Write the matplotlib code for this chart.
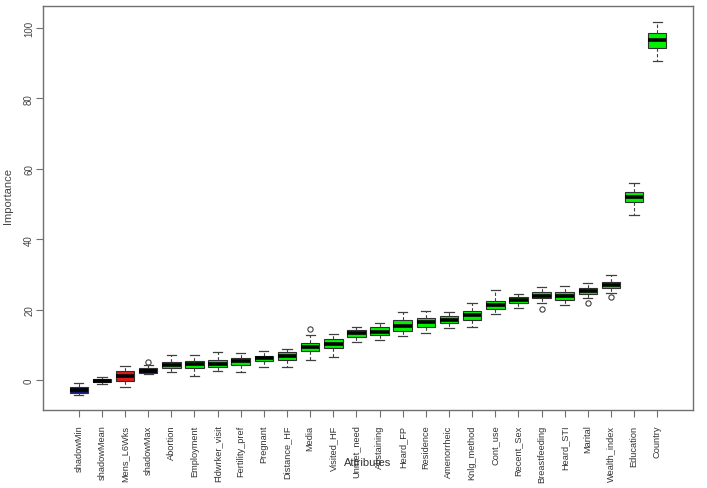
import matplotlib
matplotlib.use("Agg")
import matplotlib.pyplot as plt

# Boruta importance per attribute
attributes = ['shadowMin', 'shadowMean', 'Mens_L6Wks', 'shadowMax', 'Abortion',
              'Employment', 'Fldwrker_visit', 'Fertility_pref', 'Pregnant',
              'Distance_HF', 'Media', 'Visited_HF', 'Unmet_need', 'Abstaining',
              'Heard_FP', 'Residence', 'Amenorrheic', 'Knlg_method', 'Cont_use',
              'Recent_Sex', 'Breastfeeding', 'Heard_STI', 'Marital',
              'Wealth_index', 'Education', 'Country']
medians = [-2.9, -0.2, 1.2, 2.65, 4.35, 4.45, 4.7, 5.3, 6.15, 6.9, 9.3, 10.2,
           13.3, 13.7, 15.25, 16.4, 17.1, 18.5, 21.3, 22.7, 23.95, 23.9, 25.2,
           27.0, 52.0, 96.7]
q1 = [-3.7, -0.65, -0.2, 2.0, 3.4, 3.3, 3.7, 4.35, 5.4, 5.8, 8.3, 9.0, 12.3,
      12.8, 14.0, 15.0, 16.1, 17.0, 20.2, 21.9, 23.2, 22.7, 24.3, 26.1, 50.5, 94.4]
q3 = [-2.1, 0.3, 2.5, 3.3, 5.2, 5.3, 5.8, 6.25, 6.9, 7.9, 10.4, 11.6, 14.2,
      15.0, 17.0, 17.6, 18.1, 19.5, 22.5, 23.5, 24.9, 24.9, 26.05, 27.9, 53.5, 98.6]
whisker_lo = [-4.3, -1.2, -2.1, 1.7, 2.4, 1.2, 2.6, 2.3, 3.6, 3.6, 5.7, 6.6,
              10.7, 11.4, 12.4, 13.5, 14.7, 15.0, 18.75, 20.5, 21.9, 21.3, 23.2,
              24.6, 47.0, 90.7]
whisker_hi = [-0.85, 0.95, 4.1, 4.3, 7.1, 7.1, 7.9, 7.6, 8.15, 8.8, 12.9, 13.1,
              15.1, 16.2, 19.4, 19.7, 19.4, 21.8, 25.6, 24.3, 26.3, 26.6, 27.6,
              29.75, 56.05, 101.8]
outliers = {'shadowMax': [5.0], 'Media': [14.5], 'Breastfeeding': [20.2],
            'Marital': [21.8], 'Wealth_index': [23.5]}
decisions = ['shadow', 'shadow', 'rejected', 'shadow'] + ['confirmed'] * 22

colors = {'shadow': '#15157a', 'rejected': '#e01818', 'confirmed': '#00f000'}
fonts = ['Liberation Sans', 'DejaVu Sans']

stats = []
for i, name in enumerate(attributes):
    stats.append({'label': name, 'med': medians[i], 'q1': q1[i], 'q3': q3[i],
                  'whislo': whisker_lo[i], 'whishi': whisker_hi[i],
                  'fliers': outliers.get(name, [])})

fig = plt.figure(figsize=(7.07, 4.89), dpi=100)
ax = fig.add_axes([0.061, 0.1595, 0.919, 0.826])

bp = ax.bxp(stats, positions=range(1, len(stats) + 1), widths=0.8,
            patch_artist=True, capwidths=0.4,
            boxprops=dict(edgecolor='#303030', linewidth=0.8),
            medianprops=dict(color='black', linewidth=2.6),
            whiskerprops=dict(color='#404040', linestyle=(0, (3, 2)), linewidth=0.8),
            capprops=dict(color='#404040', linewidth=0.9),
            flierprops=dict(marker='o', markerfacecolor='none',
                            markeredgecolor='#404040', markersize=3.8,
                            markeredgewidth=0.8))
for patch, d in zip(bp['boxes'], decisions):
    patch.set_facecolor(colors[d])

ax.set_xlim(-0.54, 27.54)
ax.set_ylim(-8.5, 106.2)
ax.set_yticks([0, 20, 40, 60, 80, 100])
ax.set_yticklabels(['0', '20', '40', '60', '80', '100'], rotation=90,
                   va='center', fontsize=7, color='#444444', family=fonts)
ax.set_xticks(range(1, len(attributes) + 1))
ax.set_xticklabels(attributes, rotation=90, fontsize=6.7, color='#333333',
                   family=fonts)
ax.tick_params(axis='both', length=5, width=0.8, color='#707070')
ax.tick_params(axis='x', pad=5.5)
ax.tick_params(axis='y', pad=1.5)
for s in ax.spines.values():
    s.set_color('#707070')
    s.set_linewidth(1.0)

fig.text(0.012, 0.60, 'Importance', rotation=90, ha='center', va='center',
         fontsize=8, color='#444444', family=fonts)
fig.text(0.52, 0.053, 'Attributes', ha='center', va='center', fontsize=8,
         color='#333333', family=['Liberation Sans Narrow'] + fonts)

fig.savefig('out.png', dpi=100)
